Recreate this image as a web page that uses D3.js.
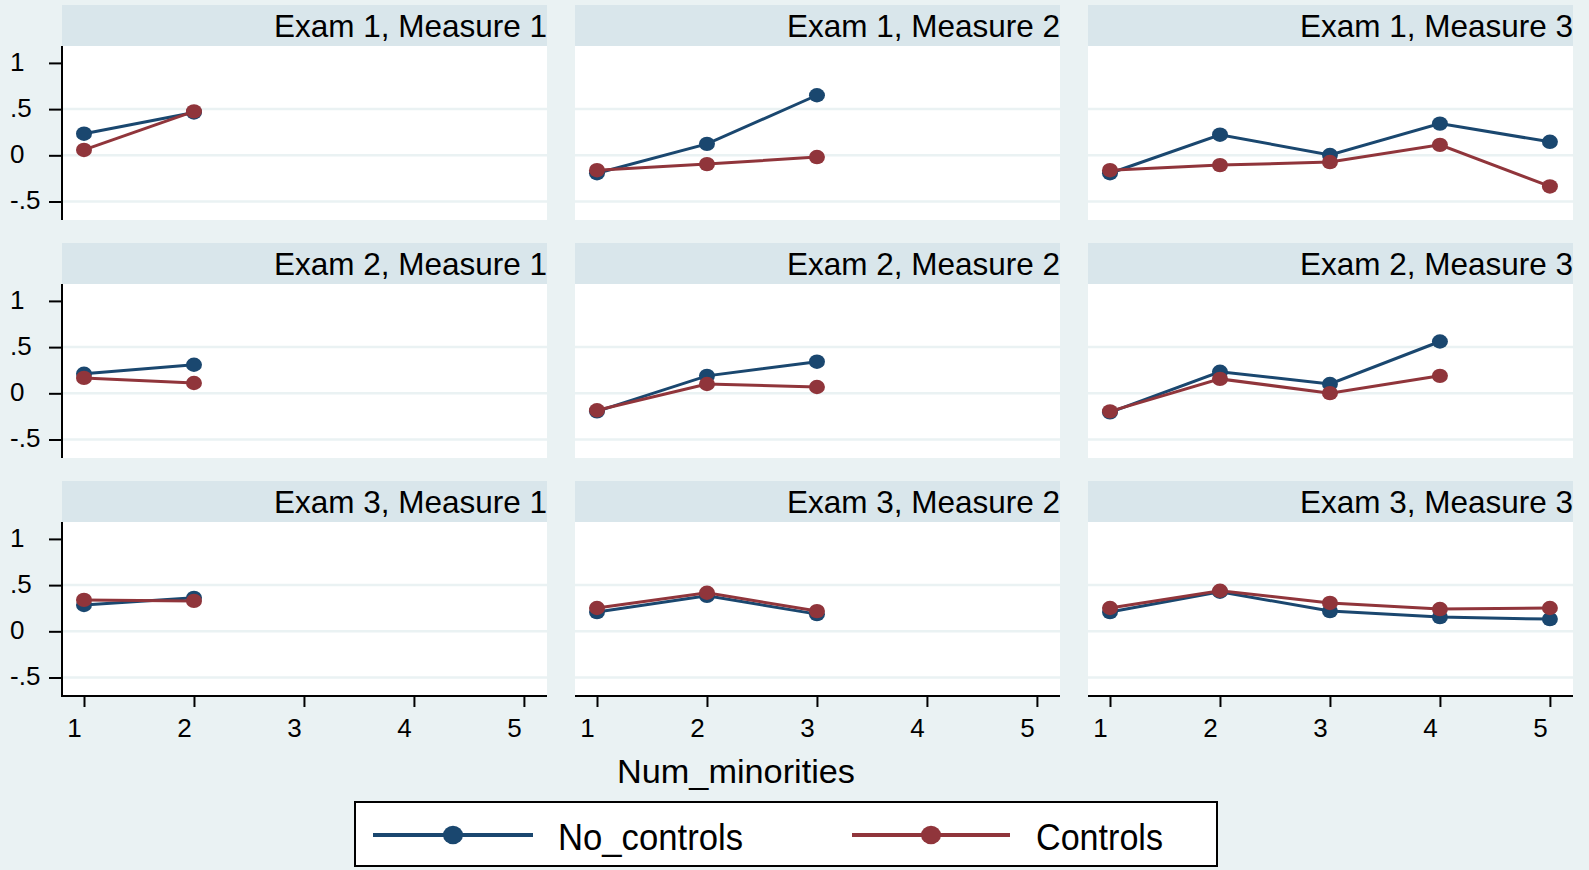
<!DOCTYPE html>
<html>
<head>
<meta charset="utf-8">
<script src="https://cdn.jsdelivr.net/npm/d3@7"></script>
<style>
  html, body { margin: 0; padding: 0; background: #eaf2f3; }
  svg { display: block; font-family: "Liberation Sans", Arial, sans-serif; }
</style>
</head>
<body>
<svg id="chart" width="1589" height="870"></svg>
<script>
// Number of minorities on the x axis
const numMinorities = [1, 2, 3, 4, 5];
const exams = ["Exam 1", "Exam 2", "Exam 3"];
const measures = ["Measure 1", "Measure 2", "Measure 3"];
const yTicks = [-0.5, 0, 0.5, 1];
const yTickLabels = ["-.5", "0", ".5", "1"];
const seriesNames = ["No_controls", "Controls"];

// Estimates per panel (row = exam, column = measure), one value per category
const noControls = [
  [[0.234, 0.464], [-0.194, 0.124, 0.650], [-0.194, 0.223, 0.003, 0.343, 0.146]],
  [[0.211, 0.309], [-0.195, 0.189, 0.342], [-0.206, 0.233, 0.101, 0.561]],
  [[0.285, 0.362], [0.208, 0.384, 0.186], [0.208, 0.428, 0.219, 0.154, 0.132]]
];
const controls = [
  [[0.058, 0.475], [-0.161, -0.095, -0.019], [-0.161, -0.106, -0.073, 0.113, -0.337]],
  [[0.167, 0.112], [-0.184, 0.101, 0.068], [-0.195, 0.156, 0.002, 0.189]],
  [[0.340, 0.329], [0.252, 0.417, 0.219], [0.252, 0.439, 0.307, 0.241, 0.252]]
];

const colors = ["#1a476f", "#90353b"];
const series = [noControls, controls];

const svg = d3.select("#chart");
const bg = "#eaf2f3";
const stripFill = "#d9e6eb";

// Panel grid geometry
const colLeft = [62, 575, 1088];
const panelW = 485;
const rowTop = [5, 243, 481];
const stripH = 41;
const plotH = 174;

const x = d3.scaleLinear().domain([0.8, 5.21]).range([0, panelW]);
const y = d3.scaleLinear().domain([-0.70, 1.183]).range([plotH, 0]);

const line = d3.line().x((d, i) => x(numMinorities[i])).y(d => y(d));

exams.forEach((exam, r) => {
  measures.forEach((measure, c) => {
    const g = svg.append("g")
      .attr("transform", `translate(${colLeft[c]},${rowTop[r]})`);

    // Strip with the panel title
    g.append("rect")
      .attr("x", 0).attr("y", 0)
      .attr("width", panelW).attr("height", stripH)
      .attr("fill", stripFill);
    g.append("text")
      .attr("x", panelW).attr("y", stripH - 9.5)
      .attr("text-anchor", "end")
      .attr("font-size", 31.5)
      .attr("fill", "#000")
      .text(`${exam}, ${measure}`);

    const p = g.append("g").attr("transform", `translate(0,${stripH})`);
    p.append("rect")
      .attr("width", panelW).attr("height", plotH)
      .attr("fill", "#fff");

    // Horizontal grid lines (none at the top tick)
    p.selectAll("line.grid")
      .data(yTicks.filter(t => t < 1))
      .join("line")
      .attr("class", "grid")
      .attr("x1", 0).attr("x2", panelW)
      .attr("y1", d => y(d)).attr("y2", d => y(d))
      .attr("stroke", bg).attr("stroke-width", 2.5);

    // Lines and markers for each series
    series.forEach((s, k) => {
      const vals = s[r][c];
      p.append("path")
        .datum(vals)
        .attr("d", line)
        .attr("fill", "none")
        .attr("stroke", colors[k])
        .attr("stroke-width", 3);
      p.selectAll(`ellipse.s${k}`)
        .data(vals)
        .join("ellipse")
        .attr("class", `s${k}`)
        .attr("cx", (d, i) => x(numMinorities[i]))
        .attr("cy", d => y(d))
        .attr("rx", 8).attr("ry", 7.2)
        .attr("fill", colors[k]);
    });

    // Left axis for the first column
    if (c === 0) {
      const ax = p.append("g")
        .call(d3.axisLeft(y).tickValues(yTicks)
          .tickFormat((d, i) => yTickLabels[i])
          .tickSize(13).tickSizeOuter(0));
      ax.select(".domain").remove();
      ax.selectAll(".tick line").attr("stroke", "#000").attr("stroke-width", 2);
      ax.selectAll(".tick text")
        .attr("x", -52).attr("y", -2).attr("dy", "0.35em")
        .attr("text-anchor", "start")
        .attr("font-size", 26)
        .attr("font-family", "Liberation Sans, Arial, sans-serif")
        .attr("fill", "#000");
      p.append("line")
        .attr("x1", 0).attr("x2", 0)
        .attr("y1", 0).attr("y2", r === 2 ? plotH + 1 : plotH)
        .attr("stroke", "#000").attr("stroke-width", 2);
    }

    // Bottom axis for the last row
    if (r === 2) {
      const ax = p.append("g")
        .attr("transform", `translate(0,${plotH})`)
        .call(d3.axisBottom(x).tickValues(numMinorities)
          .tickFormat(d3.format("d"))
          .tickSize(11).tickSizeOuter(0));
      ax.select(".domain").remove();
      ax.selectAll(".tick line").attr("stroke", "#000").attr("stroke-width", 2);
      ax.selectAll(".tick text")
        .attr("y", 23).attr("dy", "0.71em")
        .attr("dx", -10)
        .attr("font-size", 26)
        .attr("font-family", "Liberation Sans, Arial, sans-serif")
        .attr("fill", "#000");
      p.append("line")
        .attr("x1", 0).attr("x2", panelW)
        .attr("y1", plotH).attr("y2", plotH)
        .attr("stroke", "#000").attr("stroke-width", 2);
    }
  });
});

// X axis title
svg.append("text")
  .attr("x", 617).attr("y", 783)
  .attr("font-size", 34)
  .attr("textLength", 238)
  .attr("lengthAdjust", "spacingAndGlyphs")
  .attr("fill", "#000")
  .text("Num_minorities");

// Legend
const lg = svg.append("g");
lg.append("rect")
  .attr("x", 355).attr("y", 802)
  .attr("width", 862).attr("height", 64)
  .attr("fill", "#fff")
  .attr("stroke", "#000").attr("stroke-width", 2);

const legendItems = [
  { x1: 373, x2: 533, text: 558, textLen: 185 },
  { x1: 852, x2: 1010, text: 1036, textLen: 127 }
];
legendItems.forEach((it, k) => {
  lg.append("line")
    .attr("x1", it.x1).attr("x2", it.x2)
    .attr("y1", 835).attr("y2", 835)
    .attr("stroke", colors[k]).attr("stroke-width", 4);
  lg.append("ellipse")
    .attr("cx", (it.x1 + it.x2) / 2).attr("cy", 835)
    .attr("rx", 10).attr("ry", 9.3)
    .attr("fill", colors[k]);
  lg.append("text")
    .attr("x", it.text).attr("y", 850)
    .attr("font-size", 36)
    .attr("textLength", it.textLen)
    .attr("lengthAdjust", "spacingAndGlyphs")
    .attr("fill", "#000")
    .text(seriesNames[k]);
});
</script>
</body>
</html>
